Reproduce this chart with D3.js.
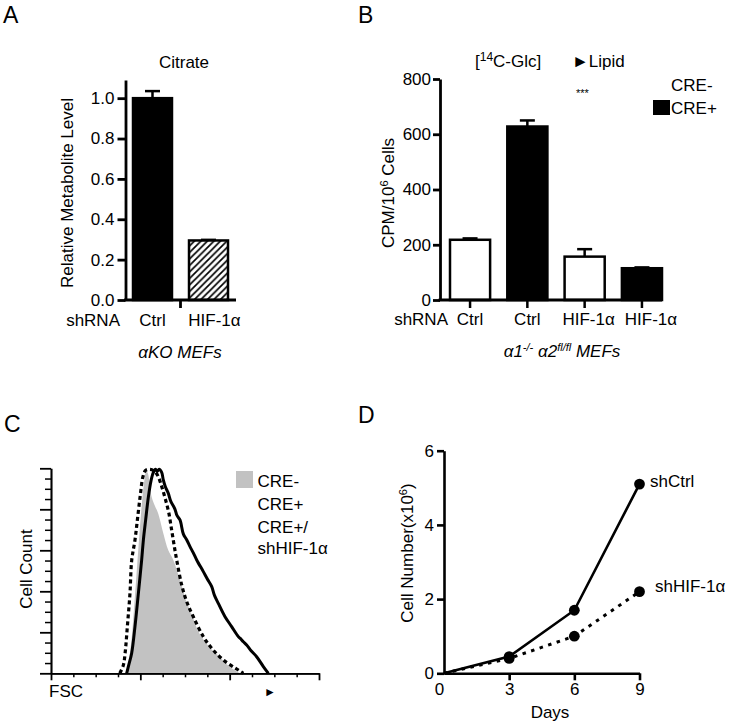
<!DOCTYPE html>
<html>
<head>
<meta charset="utf-8">
<script src="https://cdn.jsdelivr.net/npm/d3@7"></script>
<style>
  body { margin: 0; background: #fff; }
  svg { display: block; }
  text { font-family: "Liberation Sans", Arial, sans-serif; fill: #000; }
</style>
</head>
<body>
<svg id="chart" width="729" height="727"></svg>
<script>
// ---------- DATA ----------
// Panel A
const aCategories = ["Ctrl", "HIF-1α"];
const aValues = [1.0, 0.295];
const aErrors = [0.035, 0.003];
const aTicks = [0, 0.2, 0.4, 0.6, 0.8, 1.0];

// Panel B
const bCategories = ["Ctrl-", "Ctrl+", "HIF-", "HIF+"];
const bLabels = ["Ctrl", "Ctrl", "HIF-1α", "HIF-1α"];
const bGroups = ["CRE-", "CRE+", "CRE-", "CRE+"];
const bValues = [218, 628, 157, 115];
const bErrors = [5, 22, 27, 3];
const bTicks = [0, 200, 400, 600, 800];

// Panel C  (x: FSC, y: relative cell count)
const cCreMinus = [[84,0],[87,6],[90,16],[93,32],[96,50],[99,68],[102,84],[104.5,94],[106.5,98.5],[108.5,97.5],[110.5,92],[112.7,86],[116,82],[120,78],[125.7,68.3],[131.3,60],[136.9,55.3],[144.4,45.5],[151,35.8],[158.5,27.6],[166,19.5],[177,13],[188.5,8.1],[200,3.2],[211.6,0]];
const cCrePlus = [[84.7,0],[87,4],[90.3,9.8],[94,22.8],[97.8,39],[101.5,55.3],[103.4,65],[106,75],[109,86],[112,94],[114.6,98],[117,99.5],[119,98.5],[121,99.5],[123.9,98],[125.7,94.3],[128,91],[131.3,87.8],[134,84],[138.8,80],[141,77],[144.4,74.8],[148.1,68],[152,65],[155.6,61.8],[159,59],[163.1,55.3],[170.5,49.6],[175,46],[179.9,42.3],[183,38],[187.3,34.1],[194.8,27.6],[202.2,22.8],[209.7,17.9],[213,16.5],[215,15.5],[219,13.8],[224,11],[230.2,8.1],[237.7,3.3],[243.3,0]];
const cShHif = [[77,0],[81,4],[83,10],[85.5,23],[88.4,39],[90.3,55],[94,65],[97,76],[100,87],[103,96],[106,99],[111,99.5],[116,98.5],[120,96],[124,91],[128,85],[132,78],[135,70],[138,62],[140.7,55.3],[146.3,43.1],[151.9,35],[159.3,27.6],[170.5,17.9],[179.9,12.2],[192.9,6.5],[209.7,1.6],[215.3,0]];
const cLegend = ["CRE-", "CRE+", "CRE+/", "shHIF-1α"];

// Panel D
const dDays = [0, 3, 6, 9];
const dShCtrl = [0, 0.45, 1.7, 5.1];
const dShHif = [0, 0.4, 1.0, 2.2];
const dTicksY = [0, 2, 4, 6];

// ---------- DRAW ----------
const svg = d3.select("#chart");
const FS = 17;
const SUB = 11;

const defs = svg.append("defs");
defs.append("pattern")
  .attr("id", "hatch").attr("patternUnits", "userSpaceOnUse")
  .attr("width", 6.5).attr("height", 6.5)
  .append("path")
  .attr("d", "M-1,1 l2,-2 M0,6.5 l6.5,-6.5 M5.5,7.5 l2,-2")
  .attr("stroke", "#000").attr("stroke-width", 1.7);

function styleAxis(g, w) {
  g.selectAll("text").style("font-size", FS + "px").style("font-family", "'Liberation Sans', Arial, sans-serif").attr("fill", "#000");
  g.select(".domain").attr("stroke", "#000").attr("stroke-width", w);
  g.selectAll(".tick line").attr("stroke", "#000").attr("stroke-width", w);
}

// Panel letters
svg.append("text").attr("x", 3).attr("y", 23).style("font-size", "23px").text("A");
svg.append("text").attr("x", 358).attr("y", 23).style("font-size", "23px").text("B");
svg.append("text").attr("x", 4).attr("y", 432).style("font-size", "23px").text("C");
svg.append("text").attr("x", 358).attr("y", 423).style("font-size", "23px").text("D");

// ===== Panel A =====
{
  const y = d3.scaleLinear().domain([0, 1.09]).range([300, 80]);
  const x = d3.scaleBand().domain(aCategories).range([133, 228]).paddingInner(0.304).paddingOuter(0);
  const axisX = 125.5;
  const g = svg.append("g");
  g.selectAll("rect.bar").data(aCategories).join("rect")
    .attr("x", d => x(d)).attr("width", x.bandwidth())
    .attr("y", (d, i) => y(aValues[i])).attr("height", (d, i) => y(0) - y(aValues[i]))
    .attr("fill", (d, i) => i === 0 ? "#000" : "url(#hatch)")
    .attr("stroke", "#000").attr("stroke-width", 2.5);
  aCategories.forEach((d, i) => {
    const cx = x(d) + x.bandwidth() / 2;
    g.append("line").attr("x1", cx).attr("x2", cx).attr("y1", y(aValues[i])).attr("y2", y(aValues[i] + aErrors[i])).attr("stroke", "#000").attr("stroke-width", 2.5);
    g.append("line").attr("x1", cx - 7.5).attr("x2", cx + 7.5).attr("y1", y(aValues[i] + aErrors[i])).attr("y2", y(aValues[i] + aErrors[i])).attr("stroke", "#000").attr("stroke-width", 2.5);
  });
  const ya = g.append("g").attr("transform", `translate(${axisX},0)`)
    .call(d3.axisLeft(y).tickValues(aTicks).tickFormat(d3.format(".1f")).tickSize(8).tickPadding(3).tickSizeOuter(0));
  styleAxis(ya, 2.8);
  g.append("line").attr("x1", axisX - 1.4).attr("x2", x.range()[1] + 8).attr("y1", y(0)).attr("y2", y(0)).attr("stroke", "#000").attr("stroke-width", 2.8);
  const mid = (x(aCategories[0]) + x.bandwidth() + x(aCategories[1])) / 2;
  g.append("line").attr("x1", mid).attr("x2", mid).attr("y1", y(0)).attr("y2", y(0) + 8).attr("stroke", "#000").attr("stroke-width", 2.8);
  g.append("text").attr("x", 120).attr("y", 326).attr("text-anchor", "end").style("font-size", FS + "px").text("shRNA");
  g.append("text").attr("x", x("Ctrl") + x.bandwidth() / 2).attr("y", 326).attr("text-anchor", "middle").style("font-size", FS + "px").text("Ctrl");
  g.append("text").attr("x", x("HIF-1α") + x.bandwidth() / 2 + 6).attr("y", 326).attr("text-anchor", "middle").style("font-size", FS + "px").text("HIF-1α");
  g.append("text").attr("x", 180).attr("y", 358).attr("text-anchor", "middle").style("font-size", FS + "px").style("font-style", "italic").text("αKO MEFs");
  g.append("text").attr("x", 184).attr("y", 68).attr("text-anchor", "middle").style("font-size", FS + "px").text("Citrate");
  g.append("text").attr("transform", "translate(73,193) rotate(-90)").attr("text-anchor", "middle").style("font-size", FS + "px").text("Relative Metabolite Level");
}

// ===== Panel B =====
{
  const y = d3.scaleLinear().domain([0, 800]).range([300, 79]);
  const x = d3.scaleBand().domain(bCategories).range([450, 662]).paddingInner(0.3).paddingOuter(0);
  const axisX = 440;
  const g = svg.append("g");
  g.selectAll("rect.bar").data(bCategories).join("rect")
    .attr("x", d => x(d)).attr("width", x.bandwidth())
    .attr("y", (d, i) => y(bValues[i])).attr("height", (d, i) => y(0) - y(bValues[i]))
    .attr("fill", (d, i) => bGroups[i] === "CRE+" ? "#000" : "#fff")
    .attr("stroke", "#000").attr("stroke-width", 2.5);
  bCategories.forEach((d, i) => {
    const cx = x(d) + x.bandwidth() / 2;
    const top = y(bValues[i] + bErrors[i]);
    g.append("line").attr("x1", cx).attr("x2", cx).attr("y1", y(bValues[i])).attr("y2", top).attr("stroke", "#000").attr("stroke-width", 2.5);
    g.append("line").attr("x1", cx - 7.5).attr("x2", cx + 7.5).attr("y1", top).attr("y2", top).attr("stroke", "#000").attr("stroke-width", 2.5);
  });
  const ya = g.append("g").attr("transform", `translate(${axisX},0)`)
    .call(d3.axisLeft(y).tickValues(bTicks).tickSize(7).tickPadding(2).tickSizeOuter(0));
  styleAxis(ya, 2.8);
  g.append("line").attr("x1", axisX - 1.4).attr("x2", x.range()[1]).attr("y1", y(0)).attr("y2", y(0)).attr("stroke", "#000").attr("stroke-width", 2.8);
  bCategories.forEach((d, i) => {
    const cx = x(d) + x.bandwidth() / 2;
    g.append("line").attr("x1", cx).attr("x2", cx).attr("y1", y(0)).attr("y2", y(0) + 8).attr("stroke", "#000").attr("stroke-width", 2.5);
    const dx = bLabels[i] === "HIF-1α" ? (i === 3 ? 9 : 4) : 0;
    g.append("text").attr("x", cx + dx).attr("y", 325).attr("text-anchor", "middle").style("font-size", FS + "px").text(bLabels[i]);
  });
  g.append("text").attr("x", 448).attr("y", 325).attr("text-anchor", "end").style("font-size", FS + "px").text("shRNA");
  const sub = g.append("text").attr("x", 562).attr("y", 357).attr("text-anchor", "middle").style("font-size", FS + "px").style("font-style", "italic");
  sub.append("tspan").text("α1");
  sub.append("tspan").attr("dy", -6).style("font-size", SUB + "px").text("-/-");
  sub.append("tspan").attr("dy", 6).text(" α2");
  sub.append("tspan").attr("dy", -6).style("font-size", SUB + "px").text("fl/fl");
  sub.append("tspan").attr("dy", 6).text(" MEFs");
  const yl = g.append("text").attr("transform", "translate(394,193) rotate(-90)").attr("text-anchor", "middle").style("font-size", FS + "px");
  yl.append("tspan").text("CPM/10");
  yl.append("tspan").attr("dy", -6).style("font-size", SUB + "px").text("6");
  yl.append("tspan").attr("dy", 6).text(" Cells");
  const t = g.append("text").attr("x", 475).attr("y", 67).style("font-size", FS + "px");
  t.append("tspan").text("[");
  t.append("tspan").attr("dy", -6).style("font-size", "12px").text("14");
  t.append("tspan").attr("dy", 6).text("C-Glc]");
  const l = g.append("text").attr("x", 572).attr("y", 67).style("font-size", FS + "px");
  l.append("tspan").style("font-size", "17px").text("►");
  l.append("tspan").text("Lipid");
  g.append("text").attr("x", 576).attr("y", 97).style("font-size", "11px").text("***");
  const legY = [91, 114];
  ["CRE-", "CRE+"].forEach((lab, i) => {
    g.append("rect").attr("x", 653).attr("y", legY[i] - 14).attr("width", 17).attr("height", 15)
      .attr("fill", lab === "CRE+" ? "#000" : "#fff");
    g.append("text").attr("x", 671).attr("y", legY[i]).style("font-size", FS + "px").text(lab);
  });
}

// ===== Panel C =====
{
  const x = d3.scaleLinear().domain([0, 300]).range([51, 319]);
  const y = d3.scaleLinear().domain([0, 100]).range([673.3, 468.3]);
  const g = svg.append("g");
  const area = d3.area().x(d => x(d[0])).y0(y(0)).y1(d => y(d[1])).curve(d3.curveCatmullRom);
  const line = d3.line().x(d => x(d[0])).y(d => y(d[1])).curve(d3.curveCatmullRom);
  g.append("path").datum(cCreMinus).attr("d", area).attr("fill", "#c2c2c2");
  g.append("path").datum(cShHif).attr("d", line).attr("fill", "none").attr("stroke", "#000").attr("stroke-width", 3.2).attr("stroke-dasharray", "4,3");
  g.append("path").datum(cCrePlus).attr("d", line).attr("fill", "none").attr("stroke", "#000").attr("stroke-width", 3);
  const yMinor = d3.range(0, 101, 5).filter(v => v % 20 !== 0);
  const yMajor = d3.range(0, 101, 20);
  const ya = g.append("g").attr("transform", `translate(${x(0)},0)`)
    .call(d3.axisLeft(y).tickValues(yMajor).tickSize(11).tickFormat("").tickSizeOuter(0));
  styleAxis(ya, 1.8);
  const ym = g.append("g").attr("transform", `translate(${x(0)},0)`)
    .call(d3.axisLeft(y).tickValues(yMinor).tickSize(6).tickFormat("").tickSizeOuter(0));
  styleAxis(ym, 1.5);
  const xMajor = [0, 100, 200, 300];
  const xMinor = d3.range(0, 301, 25).filter(v => v % 100 !== 0);
  const xa = g.append("g").attr("transform", `translate(0,${y(0)})`)
    .call(d3.axisBottom(x).tickValues(xMajor).tickSize(7).tickFormat("").tickSizeOuter(0));
  styleAxis(xa, 1.8);
  const xm = g.append("g").attr("transform", `translate(0,${y(0)})`)
    .call(d3.axisBottom(x).tickValues(xMinor).tickSize(4).tickFormat("").tickSizeOuter(0));
  styleAxis(xm, 1.5);
  g.append("text").attr("x", 49).attr("y", 697).style("font-size", FS + "px").text("FSC");
  g.append("text").attr("x", 264).attr("y", 696).style("font-size", "12px").text("►");
  g.append("text").attr("transform", "translate(32,569) rotate(-90)").attr("text-anchor", "middle").style("font-size", FS + "px").text("Cell Count");
  g.append("rect").attr("x", 236).attr("y", 471).attr("width", 17).attr("height", 17).attr("fill", "#c2c2c2");
  const ly = [487, 510, 532.5, 553.5];
  cLegend.forEach((lab, i) => {
    g.append("text").attr("x", 257.5).attr("y", ly[i]).style("font-size", FS + "px").text(lab);
  });
}

// ===== Panel D =====
{
  const x = d3.scaleLinear().domain([0, 9]).range([444, 639.5]);
  const y = d3.scaleLinear().domain([0, 6]).range([673.3, 450.7]);
  const g = svg.append("g");
  const line = d3.line().x((d, i) => x(dDays[i])).y(d => y(d));
  g.append("path").datum(dShHif).attr("d", line).attr("fill", "none").attr("stroke", "#000").attr("stroke-width", 3).attr("stroke-dasharray", "3.5,5.5");
  g.append("path").datum(dShCtrl).attr("d", line).attr("fill", "none").attr("stroke", "#000").attr("stroke-width", 2.6);
  [dShCtrl, dShHif].forEach(s => {
    g.selectAll(null).data(s.slice(1)).join("circle")
      .attr("cx", (d, i) => x(dDays[i + 1])).attr("cy", d => y(d)).attr("r", 5.4).attr("fill", "#000");
  });
  const ya = g.append("g").attr("transform", `translate(${x(0)},0)`)
    .call(d3.axisLeft(y).tickValues(dTicksY).tickFormat(d3.format("d")).tickSize(7).tickPadding(3).tickSizeOuter(0));
  styleAxis(ya, 2.6);
  const xa = g.append("g").attr("transform", `translate(0,${y(0)})`)
    .call(d3.axisBottom(x).tickValues(dDays).tickFormat(d3.format("d")).tickSize(7).tickPadding(3).tickSizeOuter(0));
  styleAxis(xa, 2.6);
  xa.selectAll(".tick").filter(d => d === 0).select("line").remove();
  xa.selectAll(".tick").filter(d => d === 0).select("text").attr("dx", -5);
  g.append("text").attr("x", 550).attr("y", 718).attr("text-anchor", "middle").style("font-size", FS + "px").text("Days");
  const yl = g.append("text").attr("transform", "translate(413,553) rotate(-90)").attr("text-anchor", "middle").style("font-size", FS + "px");
  yl.append("tspan").text("Cell Number(x10");
  yl.append("tspan").attr("dy", -6).style("font-size", SUB + "px").text("6");
  yl.append("tspan").attr("dy", 6).text(")");
  g.append("text").attr("x", 650).attr("y", 486.5).style("font-size", FS + "px").text("shCtrl");
  g.append("text").attr("x", 655).attr("y", 591.5).style("font-size", FS + "px").text("shHIF-1α");
}
</script>
</body>
</html>
